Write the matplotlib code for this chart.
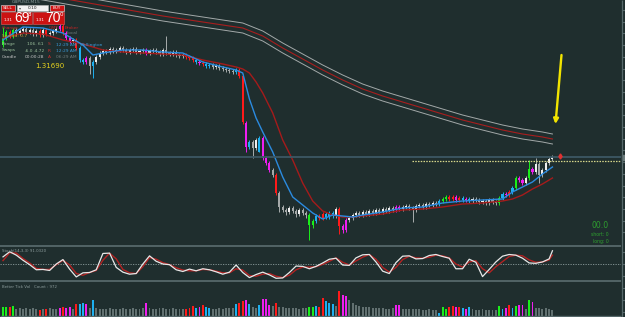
import matplotlib
matplotlib.use('Agg')
import matplotlib.pyplot as plt
from matplotlib.patches import Rectangle

W, H = 625, 317
BG = '#1f2e2e'

# ---------------- candle data (price levels) ----------------
opens = [255,262,268,264,270,267,269,271,268,270, 266,269,265,270,266,267,269,271,274,267,
         262,259,260,252,240,238,242,234,238,243, 247,249,248,251,249,250,252,250,248,250,
         251,248,249,250,247,249,250,248,246,250, 247,246,248,245,244,245,243,242,240,238,
         237,236,234,235,233,234,232,231,230,229, 228,230,224,177,153,158,152,148,162,142,
         137,130,125,107,93,90,88,92,89,86, 90,87,85,75,79,84,82,86,83,87,
         84,91,74,70,80,82,85,87,85,88, 86,89,87,90,88,91,89,92,90,93,
         91,93,94,92,90,94,95,93,96,95, 97,96,99,101,103,101,103,100,102,100,
         101,99,101,100,98,99,97,100,98,97, 102,106,105,108,112,122,120,117,122,131,
         128,136,125,130,137,141]
closes = [262,268,264,270,267,269,271,268,270,266, 269,265,270,266,267,269,271,274,267,262,
          259,260,252,240,238,242,234,238,243,247, 249,248,251,249,250,252,250,248,250,251,
          248,249,250,247,249,250,248,246,250,247, 246,248,245,244,245,243,242,240,238,237,
          236,234,235,233,234,232,231,230,229,228, 230,224,178,153,158,152,160,162,142,137,
          130,125,107,93,90,88,92,89,86,90, 87,85,75,79,84,82,86,83,87,84,
          91,74,70,80,82,85,87,85,88,86, 89,87,90,88,91,89,92,90,93,91,
          93,94,92,90,94,95,93,96,95,97, 96,99,101,103,101,103,100,102,100,101,
          99,101,100,98,99,97,100,98,97,102, 106,105,108,112,122,120,117,122,131,128,
          136,125,130,137,141,143]
highs = [273,270,270,272,272,271,273,273,272,272, 271,271,272,272,269,271,273,276,276,269,
         264,262,262,254,242,244,244,240,245,249, 251,251,253,253,252,254,254,252,252,253,
         253,251,252,252,251,252,252,250,252,264, 249,250,250,247,247,247,245,244,242,240,
         239,238,237,237,236,236,234,233,232,231, 232,232,226,179,160,160,162,164,164,144,
         139,132,127,109,95,92,94,94,91,92, 92,89,87,81,86,86,88,88,89,89,
         93,93,76,82,84,87,89,89,90,90, 91,91,92,92,93,93,94,94,95,95,
         95,96,96,94,96,97,97,98,98,99, 99,101,103,105,105,105,105,104,104,103,
         103,103,103,102,101,101,102,102,100,104, 108,108,110,114,124,124,122,124,140,133,
         142,138,132,139,143,145]
lows = [253,260,262,262,265,265,267,266,266,264, 264,263,263,264,264,265,267,269,265,260,
        257,257,250,238,236,236,226,222,236,241, 245,246,246,247,247,248,248,246,246,248,
        246,246,247,245,245,247,246,244,244,245, 244,244,243,242,242,241,240,238,236,235,
        234,232,232,231,231,230,229,228,227,226, 226,222,176,148,151,142,150,148,140,135,
        128,123,105,88,88,85,86,87,83,84, 85,82,60,72,77,80,80,81,81,82,
        82,66,67,68,78,80,83,83,83,84, 84,85,85,86,86,87,87,88,88,89,
        89,91,90,78,88,92,91,91,93,93, 94,94,97,99,99,99,98,98,98,98,
        97,97,98,96,96,95,95,96,95,95, 100,103,103,106,110,118,115,115,120,126,
        126,117,123,128,135,139]
# volume class per bar: . normal, r climax, m climax+churn, b low, g churn
vol_class = ("ggrg......" ".r.r...mrm" "m.rbbm.b.." ".........." "...m......"
             ".....rrrbm" "rbb......." "brrmb..bmm" "m.r......." "..ggbrrbbb"
             ".rmm......" "........mm" ".........." ".bggrrmrbm" "b........g"
             "bmrbgmm.gm" "......")
volumes = [250,260,250,270,200,210,190,220,200,210, 190,150,200,190,210,190,200,230,250,230,
           240,200,330,330,360,330,220,440,230,200, 190,200,210,180,200,190,210,200,180,210,
           200,190,210,380,220,200,190,210,220,200, 190,210,200,190,200,180,220,280,230,240,
           300,250,230,200,190,210,200,220,210,230, 330,380,420,450,340,250,230,300,470,470,
           300,280,380,260,240,230,220,210,230,200, 210,220,250,260,280,250,500,410,380,350,
           280,720,600,560,440,380,320,280,260,240, 250,230,220,210,230,200,190,210,320,320,
           200,190,180,200,190,180,170,160,180,170, 160,60,250,190,250,280,250,240,230,200,
           250,180,170,160,180,170,160,150,170,280, 200,230,300,230,280,300,320,200,440,400,
           230,220,200,210,190,150]

# moving averages (read at selected bars)
ma_idx = [0,6,12,18,24,27,30,36,42,48,54,60,66,70,72,74,76,78,81,84,87,90,93,96,99,102,105,108,
          114,120,126,132,138,144,150,153,156,159,162,165]
ma_fast = [260,273,272,267,255,245,247,250,250,248,247,238,233,230,227,201,182,168,148,123,103,95,87,81,
           85,84,83,85,88,92,93,97,99,100,101,108,113,118,126,133]
ma_slow = [262,267,266,260,256,253,250,248,247,246,245,240,236,233,231,227,218,207,187,160,140,117,99,89,
           85,83,83,84,86,90,91,93,96,97,99,101,105,111,116,122]
env_idx = [0,12,24,36,48,60,72,78,84,90,96,102,108,114,120,126,132,138,144,150,156,162,165]
env_mid = [312,305,298,291,284,278,272,264,252,241,230,220,211,204,198,192,186,180,175,170,166,163,161]
ENV_DEV = 5

# stochastic oscillator (every second bar)
stoch_idx = list(range(0, 165, 2)) + [165]
stoch_main = [71,86,76,61,48,33,34,31,50,63, 35,12,24,25,33,81,82,40,26,20, 22,50,74,58,50,48,33,28,35,30,
              36,33,27,20,26,47,25,10,19,26, 18,8,9,25,44,43,36,43,53,64, 67,47,46,68,77,78,56,29,22,54,
              73,74,65,66,75,78,72,67,36,36, 64,55,13,34,56,73,78,76,67,53, 52,56,65,89]
stoch_signal = [60,83,82,66,53,37,34,34,48,61, 47,22,17,25,31,61,82,65,34,24, 22,42,69,64,54,48,39,32,30,30,
                34,33,29,24,24,36,32,16,14,20, 22,14,10,17,33,41,41,42,49,58, 68,55,47,59,70,78,64,40,26,40,
                63,73,68,67,70,76,74,68,50,41, 56,60,36,24,42,57,72,76,74,62, 55,56,62,76]

# ---------------- styles ----------------
BAR_PX = 3.33
X0_PX = 3
COL = {'r': '#ff1a1a', 'm': '#f01ef0', 'b': '#1eb0f0', 'g': '#1aee1a'}
BULL, BEAR, WICK = '#eeeeee', '#a4a8a8', '#a8acac'
VOLGRAY = '#617070'
SEP = '#56686a'
TXT = dict(family='DejaVu Sans')

fig = plt.figure(figsize=(6.25, 3.17), dpi=100)
fig.patch.set_facecolor(BG)


def px_axes(x0, y0, x1, y1):
    a = fig.add_axes([x0 / W, 1 - y1 / H, (x1 - x0) / W, (y1 - y0) / H])
    a.set_facecolor('none')
    a.set_axis_off()
    a.set_xlim(-X0_PX / BAR_PX, (x1 - X0_PX) / BAR_PX)
    return a


n = min(len(opens), len(closes), len(highs), len(lows), len(vol_class), len(volumes))

# ---- main price panel ----
ax = px_axes(0, 0, 621, 246)
ax.set_ylim(54, 300)
up = [mid + ENV_DEV for mid in env_mid]
dn = [mid - ENV_DEV for mid in env_mid]
ax.plot(env_idx, up, color='#a3a9a9', lw=0.7)
ax.plot(env_idx, env_mid, color='#a81e1e', lw=0.8)
ax.plot(env_idx, dn, color='#a3a9a9', lw=0.7)
for i in range(n):
    o, c = opens[i], closes[i]
    k = vol_class[i]
    if k in COL:
        body = wick = COL[k]
    else:
        body = BULL if c >= o else BEAR
        wick = WICK
    ax.vlines(i, lows[i], highs[i], color=wick, lw=0.7, zorder=3)
    ax.bar(i, max(abs(c - o), 1.5), bottom=min(o, c), width=0.62, color=body, zorder=4, lw=0)
ax.plot(ma_idx, ma_slow, color='#a51b1b', lw=1.0, zorder=5)
ax.plot(ma_idx, ma_fast, color='#2b8be0', lw=1.0, zorder=6)

# ---- stochastic panel ----
sx = px_axes(0, 247, 621, 281)
sx.set_ylim(0, 100)
sx.axhline(50, color='#8c9c9c', lw=0.6, ls=(0, (1.5, 1.5)))
sx.plot(stoch_idx, stoch_signal, color='#b22222', lw=1.0)
sx.plot(stoch_idx, stoch_main, color='#e8e8e8', lw=0.9)

# ---- volume panel ----
vx = px_axes(0, 283, 621, 315.5)
vx.set_ylim(0, 950)
vcols = [COL.get(vol_class[i], VOLGRAY) for i in range(n)]
vx.bar(range(n), volumes[:n], width=0.58, color=vcols, lw=0)

# ---- overlay (pixel coordinates) ----
ov = fig.add_axes([0, 0, 1, 1])
ov.set_xlim(0, W); ov.set_ylim(H, 0); ov.set_axis_off(); ov.set_facecolor('none')
ov.hlines([246.3, 281.3], 0, 621, color=SEP, lw=1.3)
ov.hlines([316.3], 0, 621, color=SEP, lw=1.0)
ov.vlines(621.5, 0, 317, color=SEP, lw=0.9)
for yt in [10 + 11.7 * k for k in range(20)]:
    ov.hlines(yt, 621.5, 625, color=SEP, lw=0.8)
for yt in [252, 264, 276, 288, 300, 312]:
    ov.hlines(yt, 621.5, 625, color=SEP, lw=0.8)
# bid line and level line
ov.hlines(157, 0, 621, color='#3c5864', lw=1.3, zorder=1)
ov.add_patch(Rectangle((621.5, 154.5), 4, 5, color='#6c7c7c'))
ov.hlines(161.3, 412, 621, color='#d6d68a', lw=0.9, ls=(0, (1.2, 1.0)))
ov.plot([559.5], [156], marker='d', ms=2.6, color='#e03030', mec='#e03030')
ov.annotate('', xy=(555.5, 124), xytext=(561.5, 55),
            arrowprops=dict(arrowstyle='-|>', color='#f2e400', lw=1.7, mutation_scale=7,
                            shrinkA=0, shrinkB=0))

# title and trade panel
ov.text(12, 1.8, 'GBPUSD,M15', fontsize=3.2, color='#8c9c9c', va='center', **TXT)
for (x0, w, lab) in [(1, 14, 'SELL'), (50, 13.5, 'BUY')]:
    ov.add_patch(Rectangle((x0, 4.5), w, 6, fc='#cf1414', ec='#e8e8e8', lw=0.4, zorder=8))
    ov.text(x0 + w / 2, 7.6, lab, fontsize=3.0, color='white', ha='center', va='center', zorder=9, **TXT)
ov.add_patch(Rectangle((17, 4.5), 31, 6, fc='#f2f2f2', ec='#c0c0c0', lw=0.4, zorder=8))
ov.text(18.5, 7.6, '\u25be', fontsize=3.0, color='#555555', va='center', zorder=9, **TXT)
ov.text(33, 7.6, '0.10', fontsize=3.2, color='#222222', ha='center', va='center', zorder=9, **TXT)
for (x0, big, sup) in [(1, '69', '8'), (33, '70', '0')]:
    ov.add_patch(Rectangle((x0, 11.5), 30.5, 12, fc='#cc1212', ec='#e06060', lw=0.4, zorder=8))
    ov.text(x0 + 2.5, 20.3, '1.31', fontsize=3.0, color='white', va='center', zorder=9, **TXT)
    ov.text(x0 + 20.5, 17.8, big, fontsize=10, color='white', ha='center', va='center', zorder=9,
            family='Liberation Sans')
    ov.text(x0 + 28.5, 14.5, sup, fontsize=4.0, color='white', ha='center', va='center', zorder=9, **TXT)

# info texts
info = [
    (2, 28.5, 'Change', '#d02a2a'),
    (2, 35.5, 'Spread: 0.7', '#d0a030'),
    (2, 44, 'Range', '#9cc09c'), (27, 44, '106. 61', '#9cc09c'),
    (2, 50.5, 'Swaps', '#9cc09c'), (25, 50.5, '-6.0', '#9cc09c'), (34, 50.5, '-4.72', '#9cc09c'),
    (2, 57, 'Candle', '#c8c8c8'), (25, 57, '00:00:28', '#c8c8c8'),
    (48, 44, 'S', '#d02a2a'), (48, 50.5, 'R', '#d02a2a'), (48, 57, 'A', '#d02a2a'),
    (49, 28, 'GMT', '#c02424'), (65, 28, 'Broker', '#c02424'), (67, 33.5, 'Local', '#6a7a7a'),
    (56, 45, '12:29 AM', '#3a9ad8'), (80, 45, 'Wellington', '#3a9ad8'),
    (56, 51, '12:29 AM', '#3a9ad8'), (56, 57, '06:29 AM', '#707a7a'),
]
for (tx, ty, s, c) in info:
    ov.text(tx, ty, s, fontsize=3.2, color=c, va='center', zorder=9, **TXT)
ov.text(35, 66.5, '1.31690', fontsize=5.0, color='#e6d21e', va='center', zorder=9, **TXT)

# bottom-right status
ov.text(609, 226, '00.0', fontsize=5.6, color='#2ea02e', ha='right', va='center', **TXT)
ov.text(609, 234.5, 'short: 0', fontsize=3.3, color='#2ea02e', ha='right', va='center', **TXT)
ov.text(609, 241, 'long: 0', fontsize=3.3, color='#2ea02e', ha='right', va='center', **TXT)

# sub-window labels
ov.text(2, 250.5, 'Stoch(14,3,3) 91.0320', fontsize=2.8, color='#8c9c9c', va='center', **TXT)
ov.text(2, 287.5, 'Better Tick Vol   Count : 972', fontsize=2.8, color='#8c9c9c', va='center', **TXT)

fig.savefig('out.png', facecolor=BG)
